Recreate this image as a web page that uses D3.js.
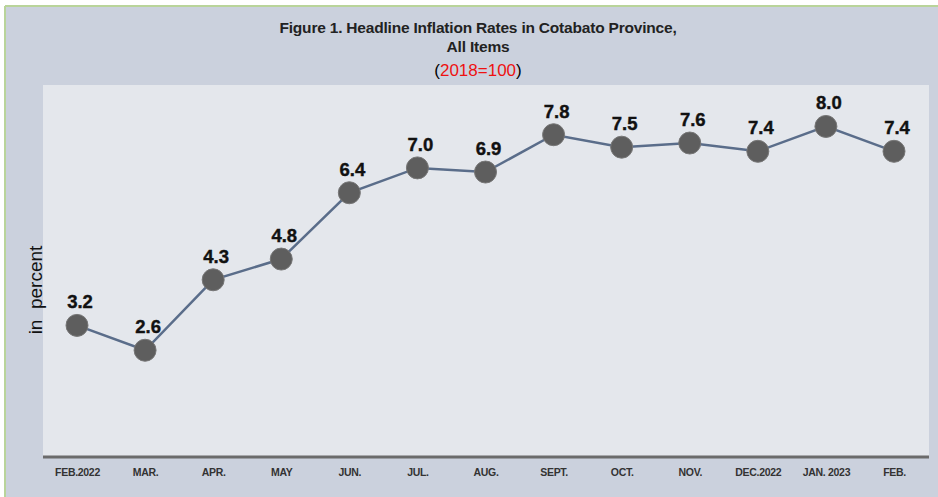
<!DOCTYPE html>
<html>
<head>
<meta charset="utf-8">
<script src="https://cdn.jsdelivr.net/npm/d3@7"></script>
<style>
  body { margin: 0; background: #fff; }
  svg { display: block; }
</style>
</head>
<body>
<svg id="chart"></svg>
<script>
const months = ["FEB.2022","MAR.","APR.","MAY","JUN.","JUL.","AUG.","SEPT.","OCT.","NOV.","DEC.2022","JAN. 2023","FEB."];
const rates = [3.2, 2.6, 4.3, 4.8, 6.4, 7.0, 6.9, 7.8, 7.5, 7.6, 7.4, 8.0, 7.4];
const titleLines = ["Figure 1. Headline Inflation Rates in Cotabato Province,", "All Items"];

const width = 938;
const height = 497;
const svg = d3.select("#chart")
              .attr("width", width)
              .attr("height", height);

// outer panel with green edge
svg.append("rect")
   .attr("x", 5).attr("y", 6)
   .attr("width", width - 5).attr("height", height - 6)
   .attr("fill", "#cbd1dd");
svg.append("line")
   .attr("x1", 5).attr("x2", width).attr("y1", 6).attr("y2", 6)
   .attr("stroke", "#b9d49a").attr("stroke-width", 2);
svg.append("line")
   .attr("x1", 5).attr("x2", 5).attr("y1", 6).attr("y2", height)
   .attr("stroke", "#b9d49a").attr("stroke-width", 2);

const plot = {left: 43, right: 929, top: 85, bottom: 458};

svg.append("rect")
   .attr("x", plot.left).attr("y", plot.top)
   .attr("width", plot.right - plot.left)
   .attr("height", plot.bottom - plot.top)
   .attr("fill", "#e4e7ec");

const x = d3.scalePoint()
            .domain(months)
            .range([77, 894]);
const y = d3.scaleLinear()
            .domain([0, 9])
            .range([plot.bottom, plot.top]);

// bottom axis
const xAxis = svg.append("g")
   .attr("transform", `translate(0,${plot.bottom - 1})`)
   .call(d3.axisBottom(x).tickSize(0).tickPadding(12));
xAxis.select(".domain")
   .attr("d", `M${plot.left},0H${plot.right}`)
   .attr("stroke", "#6b6b6b").attr("stroke-width", 3);
xAxis.selectAll("text")
   .attr("font-family", "'Liberation Sans', Arial, sans-serif")
   .attr("font-weight", "bold")
   .attr("font-size", 10.5)
   .attr("letter-spacing", -0.3)
   .attr("fill", "#333");

// line
const line = d3.line()
               .x((d, i) => x(months[i]))
               .y(d => y(d));
svg.append("path")
   .datum(rates)
   .attr("d", line)
   .attr("fill", "none")
   .attr("stroke", "#5a6d8a")
   .attr("stroke-width", 2.5);

// points
svg.selectAll("circle.pt")
   .data(rates)
   .enter()
   .append("circle")
   .attr("class", "pt")
   .attr("cx", (d, i) => x(months[i]))
   .attr("cy", d => y(d))
   .attr("r", 11)
   .attr("fill", "#5e5e5e")
   .attr("stroke", "#777")
   .attr("stroke-width", 1);

// value labels
svg.selectAll("text.val")
   .data(rates)
   .enter()
   .append("text")
   .attr("class", "val")
   .attr("x", (d, i) => x(months[i]) + 3)
   .attr("y", d => y(d) - 17)
   .attr("text-anchor", "middle")
   .attr("font-family", "'Liberation Sans', Arial, sans-serif")
   .attr("font-weight", "bold")
   .attr("font-size", 18.5)
   .attr("stroke", "#111")
   .attr("stroke-width", 0.4)
   .attr("fill", "#111")
   .text(d => d.toFixed(1));

// titles
svg.selectAll("text.title")
   .data(titleLines)
   .enter()
   .append("text")
   .attr("class", "title")
   .attr("x", 478)
   .attr("y", (d, i) => 33 + i * 19)
   .attr("text-anchor", "middle")
   .attr("font-family", "'Liberation Sans', Arial, sans-serif")
   .attr("font-weight", "bold")
   .attr("font-size", 15.5)
   .attr("letter-spacing", -0.2)
   .attr("fill", "#222")
   .text(d => d);

const sub = svg.append("text")
   .attr("x", 478).attr("y", 76)
   .attr("text-anchor", "middle")
   .attr("font-family", "'Liberation Sans', Arial, sans-serif")
   .attr("font-size", 17);
sub.append("tspan").attr("fill", "#000").text("(");
sub.append("tspan").attr("fill", "#ee1111").text("2018=100");
sub.append("tspan").attr("fill", "#000").text(")");

// y label
svg.append("text")
   .attr("transform", "translate(42,290) rotate(-90)")
   .attr("text-anchor", "middle")
   .attr("font-family", "'Liberation Sans', Arial, sans-serif")
   .attr("font-size", 19)
   .attr("fill", "#111")
   .attr("xml:space", "preserve")
   .text("in  percent");
</script>
</body>
</html>
